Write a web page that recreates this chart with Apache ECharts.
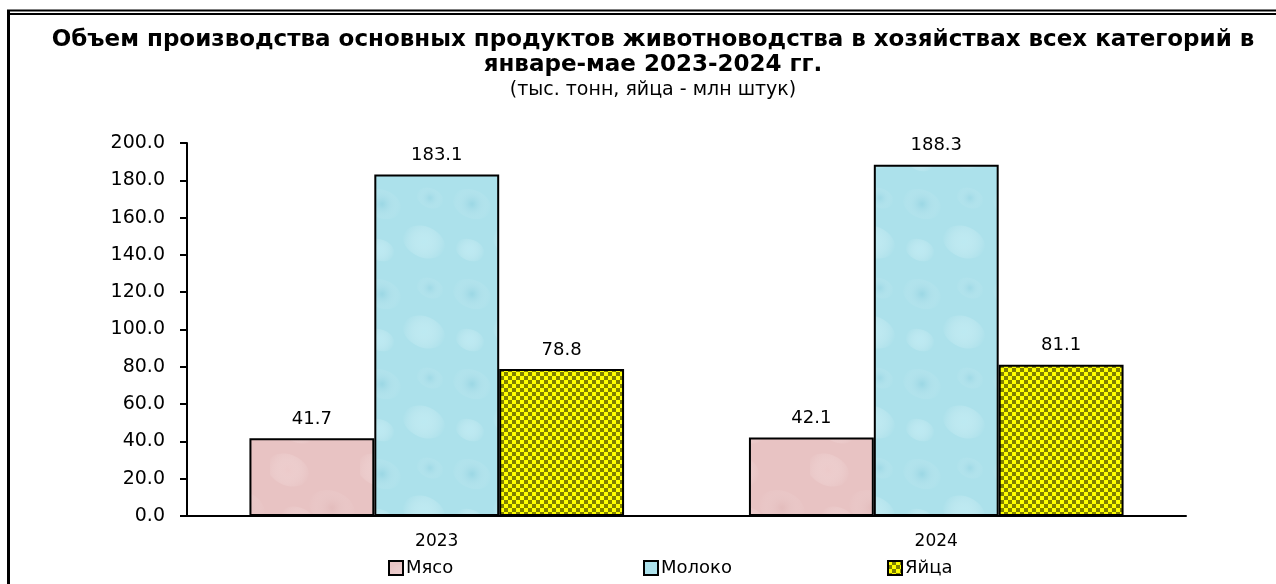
<!DOCTYPE html>
<html>
<head>
<meta charset="utf-8">
<script src="https://cdn.jsdelivr.net/npm/echarts@6/dist/echarts.min.js"></script>
<style>
  html, body { margin: 0; padding: 0; background: #fff; }
  #chart { width: 1276px; height: 584px; }
</style>
</head>
<body>
<div id="chart"></div>
<script>
"use strict";

const years = ["2023", "2024"];
const seriesNames = ["Мясо", "Молоко", "Яйца"];
const meat = [41.7, 42.1];
const milk = [183.1, 188.3];
const eggs = [78.8, 81.1];
const yTicks = [0, 20, 40, 60, 80, 100, 120, 140, 160, 180, 200];

const FONT = "DejaVu Sans";

// checkerboard fill like the old Excel pattern
const makeChecker = (a, b, size) => {
  const c = document.createElement("canvas");
  c.width = size * 2;
  c.height = size * 2;
  const ctx = c.getContext("2d");
  ctx.fillStyle = a;
  ctx.fillRect(0, 0, size * 2, size * 2);
  ctx.fillStyle = b;
  ctx.fillRect(size, 0, size, size);
  ctx.fillRect(0, size, size, size);
  return c;
};

// soft blotchy texture (pink "paper" / blue "water drops")
const makeBlotches = (base, spots) => {
  const c = document.createElement("canvas");
  c.width = 90;
  c.height = 90;
  const ctx = c.getContext("2d");
  ctx.fillStyle = base;
  ctx.fillRect(0, 0, 90, 90);
  for (const s of spots) {
    const g = ctx.createRadialGradient(s[0], s[1], 1, s[0], s[1], s[2]);
    g.addColorStop(0, s[3]);
    g.addColorStop(1, "rgba(255,255,255,0)");
    ctx.fillStyle = g;
    ctx.beginPath();
    ctx.ellipse(s[0], s[1], s[2], s[2] * 0.7, 0.4, 0, Math.PI * 2);
    ctx.fill();
  }
  return c;
};

const pinkTex = makeBlotches("#e8c3c3", [
  [18, 20, 22, "rgba(242,212,212,0.45)"],
  [62, 58, 24, "rgba(218,176,176,0.3)"],
  [28, 70, 18, "rgba(240,206,206,0.4)"]
]);
const blueTex = makeBlotches("#ace1eb", [
  [22, 24, 20, "rgba(130,200,218,0.35)"],
  [64, 62, 22, "rgba(205,242,248,0.5)"],
  [70, 18, 14, "rgba(140,205,222,0.3)"],
  [20, 70, 15, "rgba(208,243,250,0.45)"]
]);
const checker = makeChecker("#ffff00", "#808000", 4);

const fills = [
  { image: pinkTex, repeat: "repeat" },
  { image: blueTex, repeat: "repeat" },
  { image: checker, repeat: "repeat" }
];
const values = [meat, milk, eggs];
const legendLeft = [383, 638, 882];

const chart = echarts.init(document.getElementById("chart"));

const series = seriesNames.map((name, i) => ({
  name: name,
  type: "bar",
  data: values[i],
  barGap: "0%",
  barCategoryGap: "25%",
  itemStyle: { color: fills[i], borderColor: "#000", borderWidth: 2 },
  label: {
    show: true,
    position: "top",
    distance: 10,
    color: "#000",
    fontSize: 18,
    fontFamily: FONT,
    formatter: (p) => p.value.toFixed(1)
  }
}));

const legends = seriesNames.map((name, i) => ({
  data: [name],
  left: legendLeft[i],
  top: 554,
  itemWidth: 14,
  itemHeight: 14,
  itemGap: 4,
  icon: "rect",
  itemStyle: { borderColor: "#000", borderWidth: 2 },
  textStyle: { color: "#000", fontSize: 18, fontFamily: FONT, padding: [0, 0, 0, -2] }
}));

chart.setOption({
  animation: false,
  backgroundColor: "#fff",
  title: {
    text: "Объем производства основных продуктов животноводства в хозяйствах всех категорий в\nянваре-мае 2023-2024 гг.",
    subtext: "(тыс. тонн, яйца - млн штук)",
    left: 648,
    textAlign: "center",
    top: 23,
    itemGap: 3,
    textStyle: { color: "#000", fontSize: 23, fontWeight: "bold", lineHeight: 25, fontFamily: FONT },
    subtextStyle: { color: "#000", fontSize: 19, fontFamily: FONT }
  },
  legend: legends,
  grid: { left: 187, right: 90, top: 143, bottom: 68 },
  xAxis: {
    type: "category",
    data: years,
    axisLine: { lineStyle: { color: "#000", width: 2 } },
    axisTick: { show: false },
    axisLabel: { color: "#000", fontSize: 17, margin: 17, fontFamily: FONT }
  },
  yAxis: {
    type: "value",
    min: yTicks[0],
    max: yTicks[yTicks.length - 1],
    interval: yTicks[1] - yTicks[0],
    axisLine: { show: true, lineStyle: { color: "#000", width: 2 } },
    axisTick: { show: true, length: 7, lineStyle: { color: "#000", width: 2 } },
    splitLine: { show: false },
    axisLabel: {
      color: "#000",
      fontSize: 19,
      margin: 22,
      fontFamily: FONT,
      formatter: (v) => v.toFixed(1)
    }
  },
  graphic: [
    { type: "line", shape: { x1: 7, y1: 10.5, x2: 1276, y2: 10.5 }, style: { stroke: "#000", lineWidth: 2 } },
    { type: "line", shape: { x1: 10, y1: 14, x2: 1276, y2: 14 }, style: { stroke: "#000", lineWidth: 2 } },
    { type: "line", shape: { x1: 8.5, y1: 10, x2: 8.5, y2: 584 }, style: { stroke: "#000", lineWidth: 3 } }
  ],
  series: series
});
</script>
</body>
</html>
